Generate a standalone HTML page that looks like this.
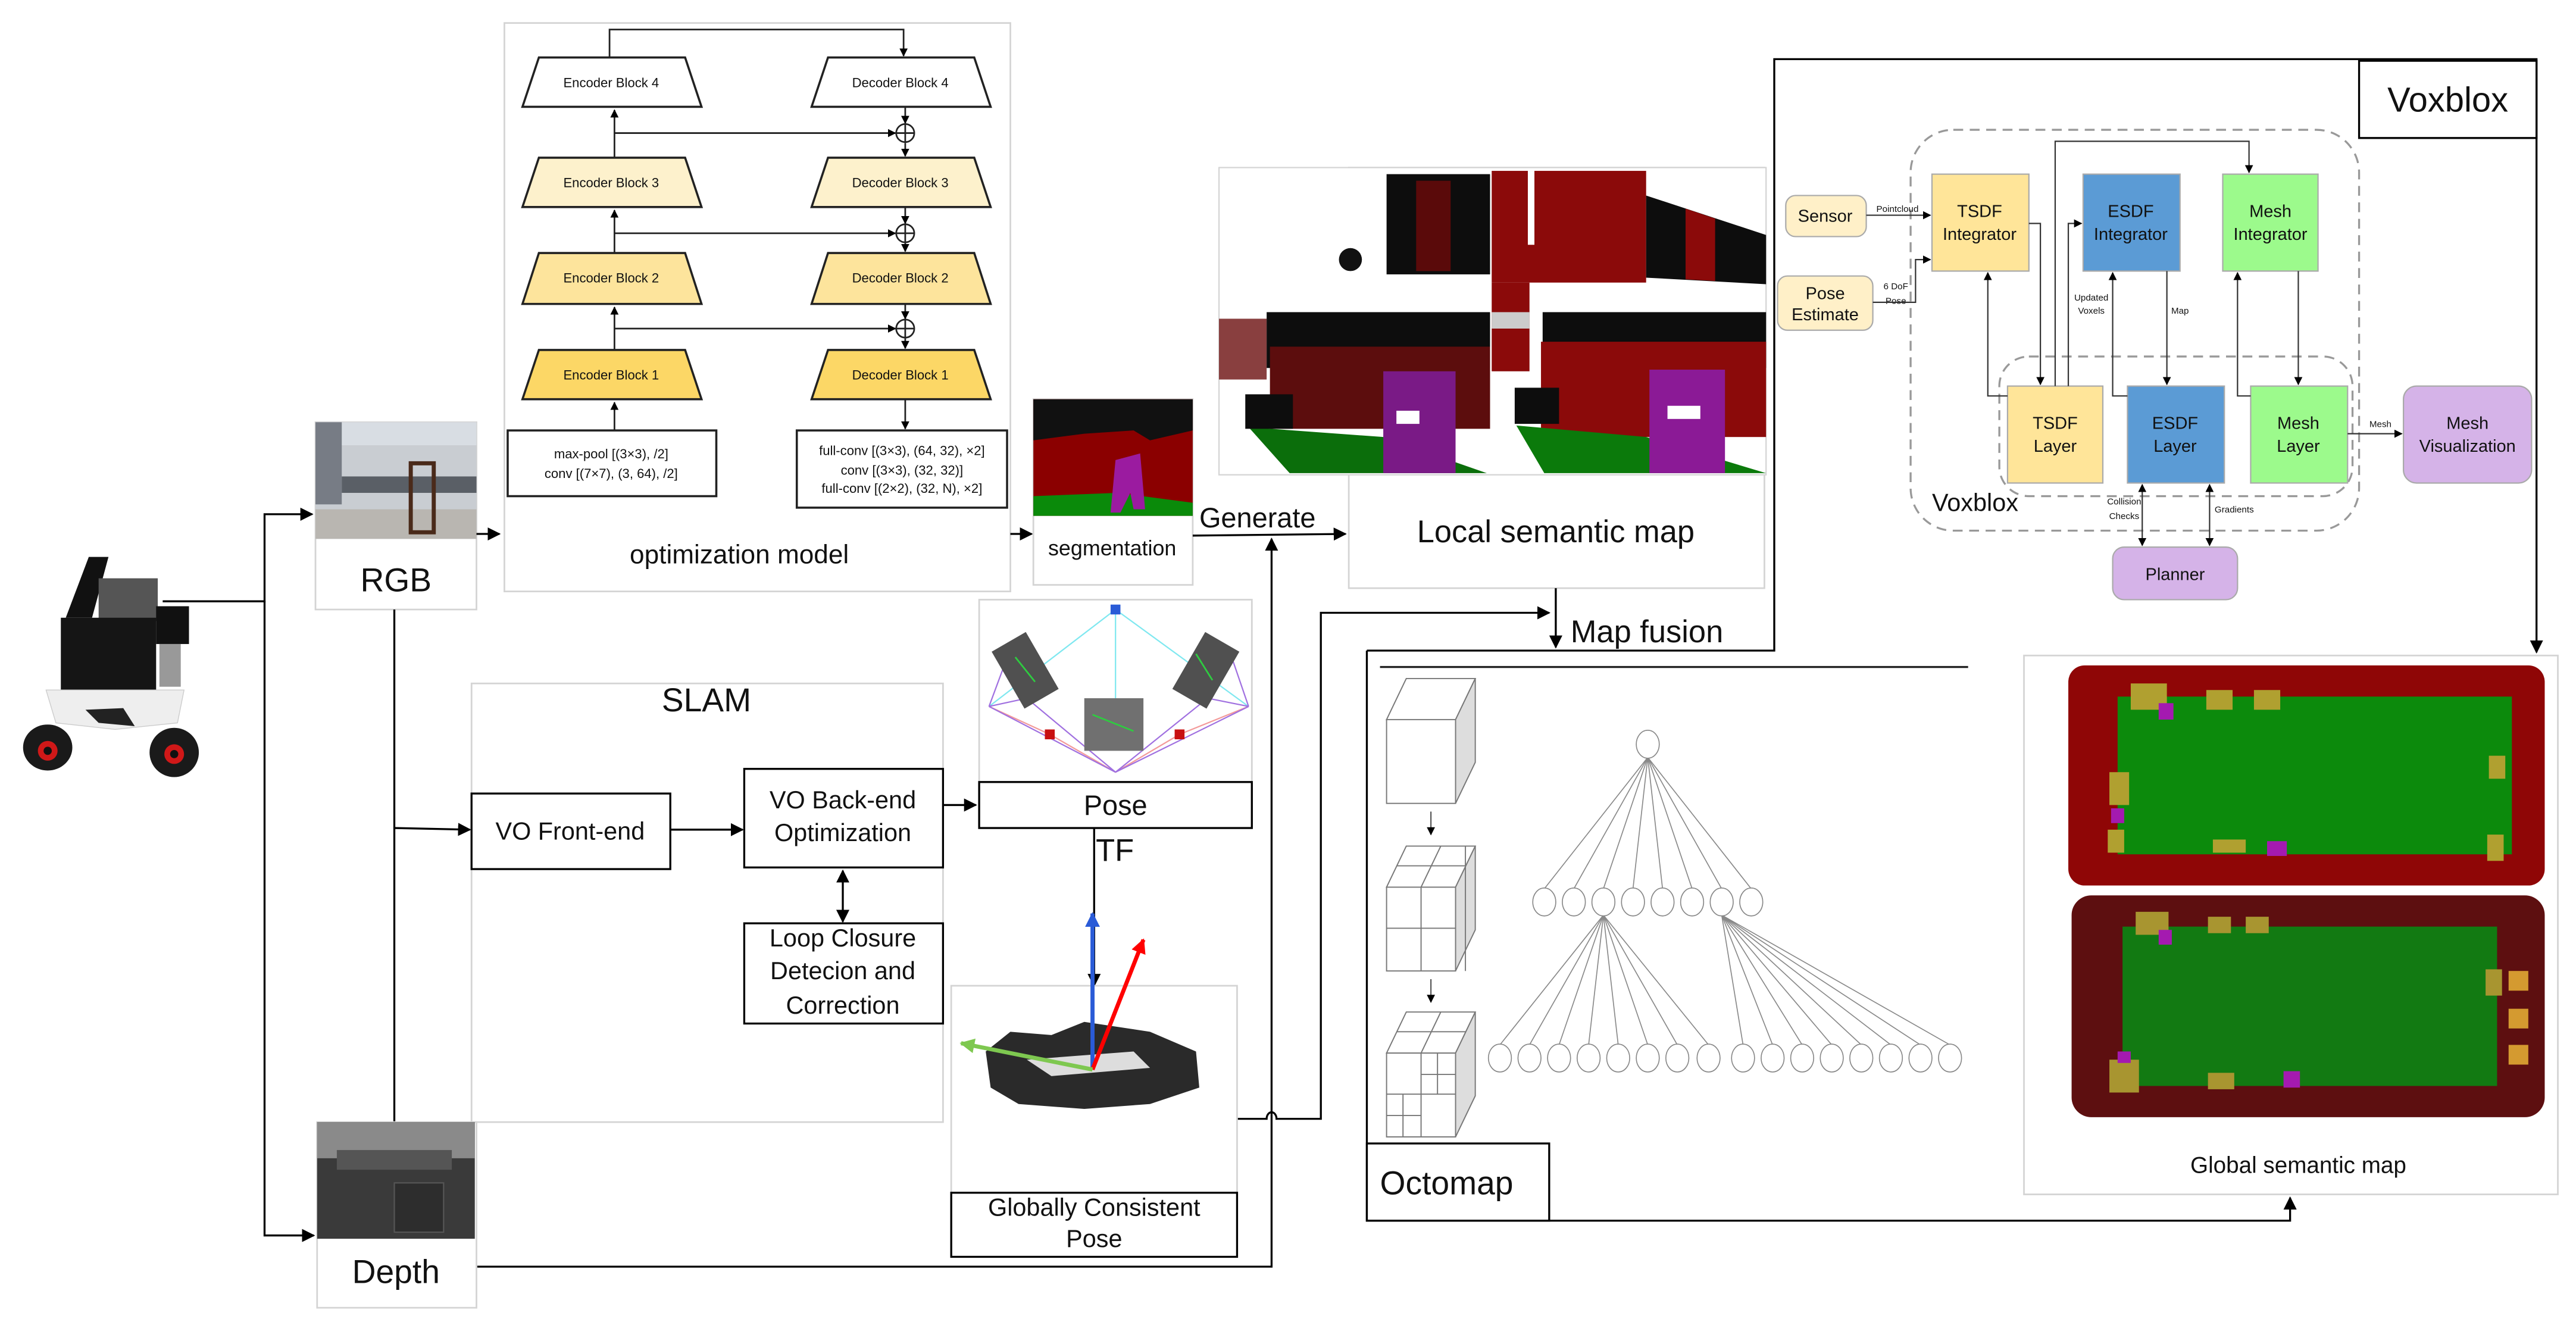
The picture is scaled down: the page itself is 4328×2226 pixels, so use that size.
<!DOCTYPE html>
<html><head><meta charset="utf-8"><style>
html,body{margin:0;padding:0;background:#fff;}
svg{display:block;}
text{font-family:"Liberation Sans",sans-serif;fill:#111;}
</style></head><body>
<svg width="4328" height="2226" viewBox="0 0 1568 806.5" xmlns="http://www.w3.org/2000/svg">
<defs>
<marker id="a" viewBox="0 0 10 10" refX="9" refY="5" markerWidth="8" markerHeight="8" markerUnits="userSpaceOnUse" orient="auto-start-reverse"><path d="M0,0L10,5L0,10z" fill="#000"/></marker>
<marker id="s" viewBox="0 0 10 10" refX="9" refY="5" markerWidth="5" markerHeight="5" markerUnits="userSpaceOnUse" orient="auto-start-reverse"><path d="M0,0L10,5L0,10z" fill="#000"/></marker>
<marker id="ab" viewBox="0 0 10 10" refX="9" refY="5" markerWidth="9" markerHeight="9" markerUnits="userSpaceOnUse" orient="auto"><path d="M0,0L10,5L0,10z" fill="#2a5bd7"/></marker>
<marker id="ar" viewBox="0 0 10 10" refX="9" refY="5" markerWidth="9" markerHeight="9" markerUnits="userSpaceOnUse" orient="auto"><path d="M0,0L10,5L0,10z" fill="#f00"/></marker>
<marker id="ag" viewBox="0 0 10 10" refX="9" refY="5" markerWidth="9" markerHeight="9" markerUnits="userSpaceOnUse" orient="auto"><path d="M0,0L10,5L0,10z" fill="#7ec850"/></marker>
</defs>

<!-- Robot -->
<g>
<polygon points="40,376 54,339 66,339 56,376" fill="#111"/>
<rect x="60" y="352" width="36" height="26" fill="#555"/>
<rect x="37" y="376" width="58" height="47" fill="#151515"/>
<rect x="95" y="369" width="20" height="23" fill="#111"/>
<rect x="97" y="392" width="13" height="26" fill="#999"/>
<path d="M28,420 L112,420 L108,440 L70,444 L34,440 Z" fill="#eee" stroke="#ccc" stroke-width="0.5"/>
<polygon points="52,432 75,431 82,442 60,440" fill="#222"/>
<ellipse cx="29" cy="455" rx="15" ry="14" fill="#1a1a1a"/>
<ellipse cx="106" cy="458" rx="15" ry="15" fill="#1a1a1a"/>
<circle cx="29" cy="457" r="6" fill="#d01818"/><circle cx="29" cy="457" r="2.5" fill="#111"/>
<circle cx="106" cy="459" r="6" fill="#d01818"/><circle cx="106" cy="459" r="2.5" fill="#111"/>
</g>

<!-- Robot connectors -->
<g stroke="#000" stroke-width="1.2" fill="none">
<path d="M99,366 H161 V313 H190" marker-end="url(#a)"/>
<path d="M161,366 V752 H191" marker-end="url(#a)"/>
</g>

<!-- RGB -->
<rect x="192" y="257" width="98" height="114" fill="#fff" stroke="#d4d4d4" stroke-width="1"/>
<rect x="192" y="257" width="98" height="71" fill="#c9cdd2"/>
<rect x="192" y="257" width="98" height="14" fill="#d8dde3"/>
<rect x="192" y="257" width="16" height="50" fill="#777c85"/>
<rect x="208" y="290" width="82" height="10" fill="#5a5f66"/>
<rect x="192" y="310" width="98" height="18" fill="#b9b6b1"/>
<rect x="250" y="282" width="14" height="42" fill="none" stroke="#4a2a1a" stroke-width="2.5"/>
<text x="241" y="360" font-size="20" text-anchor="middle">RGB</text>
<line x1="290" y1="325" x2="304" y2="325" stroke="#000" stroke-width="1.2" marker-end="url(#a)"/>

<!-- Optimization model -->
<rect x="307" y="14" width="308" height="346" fill="#fff" stroke="#d4d4d4" stroke-width="1"/>
<g stroke="#222" stroke-width="1.3">
<polygon points="328,35 417,35 427,65 318,65" fill="#fff"/>
<polygon points="504,35 593,35 603,65 494,65" fill="#fff"/>
<polygon points="328,96 417,96 427,126 318,126" fill="#fdf1cc"/>
<polygon points="504,96 593,96 603,126 494,126" fill="#fdf1cc"/>
<polygon points="328,154 417,154 427,185 318,185" fill="#fde49c"/>
<polygon points="504,154 593,154 603,185 494,185" fill="#fde49c"/>
<polygon points="328,213 417,213 427,243 318,243" fill="#fcd766"/>
<polygon points="504,213 593,213 603,243 494,243" fill="#fcd766"/>
</g>
<g font-size="8" text-anchor="middle">
<text x="372" y="53">Encoder Block 4</text><text x="548" y="53">Decoder Block 4</text>
<text x="372" y="114">Encoder Block 3</text><text x="548" y="114">Decoder Block 3</text>
<text x="372" y="172">Encoder Block 2</text><text x="548" y="172">Decoder Block 2</text>
<text x="372" y="231">Encoder Block 1</text><text x="548" y="231">Decoder Block 1</text>
</g>
<g stroke="#222" stroke-width="1" fill="none">
<path d="M371,35 V18 H550 V34" marker-end="url(#s)"/>
<line x1="374" y1="96" x2="374" y2="67" marker-end="url(#s)"/>
<line x1="374" y1="154" x2="374" y2="128" marker-end="url(#s)"/>
<line x1="374" y1="213" x2="374" y2="187" marker-end="url(#s)"/>
<line x1="374" y1="262" x2="374" y2="245" marker-end="url(#s)"/>
<line x1="374" y1="81" x2="545" y2="81" marker-end="url(#s)"/>
<line x1="374" y1="142" x2="545" y2="142" marker-end="url(#s)"/>
<line x1="374" y1="200" x2="545" y2="200" marker-end="url(#s)"/>
<line x1="551" y1="65" x2="551" y2="75" marker-end="url(#s)"/>
<line x1="551" y1="87" x2="551" y2="95" marker-end="url(#s)"/>
<line x1="551" y1="126" x2="551" y2="136" marker-end="url(#s)"/>
<line x1="551" y1="148" x2="551" y2="153" marker-end="url(#s)"/>
<line x1="551" y1="185" x2="551" y2="194" marker-end="url(#s)"/>
<line x1="551" y1="206" x2="551" y2="212" marker-end="url(#s)"/>
<line x1="551" y1="243" x2="551" y2="261" marker-end="url(#s)"/>
<circle cx="551" cy="81" r="5.5" fill="#fff"/><path d="M545.5,81H556.5M551,75.5V86.5"/>
<circle cx="551" cy="142" r="5.5" fill="#fff"/><path d="M545.5,142H556.5M551,136.5V147.5"/>
<circle cx="551" cy="200" r="5.5" fill="#fff"/><path d="M545.5,200H556.5M551,194.5V205.5"/>
</g>
<rect x="309" y="262" width="127" height="40" fill="#fff" stroke="#222" stroke-width="1.3"/>
<rect x="485" y="262" width="128" height="47" fill="#fff" stroke="#222" stroke-width="1.3"/>
<g font-size="8" text-anchor="middle">
<text x="372" y="279">max-pool [(3×3), /2]</text>
<text x="372" y="291">conv [(7×7), (3, 64), /2]</text>
<text x="549" y="277">full-conv [(3×3), (64, 32), ×2]</text>
<text x="549" y="289">conv [(3×3), (32, 32)]</text>
<text x="549" y="300">full-conv [(2×2), (32, N), ×2]</text>
</g>
<text x="450" y="343" font-size="16" text-anchor="middle">optimization model</text>
<line x1="615" y1="325" x2="628" y2="325" stroke="#000" stroke-width="1.2" marker-end="url(#a)"/>

<!-- Segmentation -->
<rect x="629" y="243" width="97" height="113" fill="#fff" stroke="#d4d4d4" stroke-width="1"/>
<rect x="629" y="243" width="97" height="71" fill="#8b0000"/>
<polygon points="629,243 726,243 726,262 700,268 690,262 660,264 629,268" fill="#111"/>
<polygon points="629,302 680,300 726,306 726,314 629,314" fill="#0a8a0a"/>
<polygon points="679,280 694,276 697,310 690,310 688,300 682,312 676,312" fill="#9b1ba0"/>
<text x="677" y="338" font-size="13" text-anchor="middle">segmentation</text>

<!-- Generate -->
<line x1="726" y1="326" x2="819" y2="325" stroke="#000" stroke-width="1.2" marker-end="url(#a)"/>
<text x="730" y="321" font-size="17">Generate</text>

<!-- Local semantic map -->
<rect x="821" y="102" width="253" height="256" fill="#fff" stroke="#d4d4d4" stroke-width="1"/>
<rect x="742" y="102" width="333" height="187" fill="#fff" stroke="#d4d4d4" stroke-width="0.8"/>
<g>
<rect x="844" y="106" width="63" height="61" fill="#0d0d0d"/>
<rect x="862" y="110" width="21" height="55" fill="#5a0a0a"/>
<circle cx="822" cy="158" r="7" fill="#111"/>
<rect x="742" y="194" width="29" height="37" fill="#6b0f0f" opacity="0.8"/>
<rect x="771" y="190" width="136" height="34" fill="#0d0d0d"/>
<rect x="773" y="211" width="134" height="50" fill="#5c0d0d"/>
<polygon points="760,260 842,266 905,288 785,288" fill="#0b6e0b"/>
<rect x="758" y="240" width="29" height="21" fill="#0d0d0d"/>
<rect x="842" y="226" width="44" height="62" fill="#7a1a86"/>
<rect x="850" y="250" width="14" height="8" fill="#fff"/>
<rect x="908" y="104" width="94" height="68" fill="#8b0a0a"/>
<rect x="930" y="104" width="4" height="45" fill="#fff"/>
<rect x="908" y="172" width="23" height="54" fill="#8b0a0a"/>
<rect x="908" y="190" width="23" height="10" fill="#ccc"/>
<polygon points="1002,119 1075,143 1075,173 1002,169" fill="#0d0d0d"/>
<polygon points="1026,127 1044,133 1044,171 1026,170" fill="#8b0a0a"/>
<rect x="939" y="190" width="136" height="34" fill="#0d0d0d"/>
<rect x="938" y="208" width="137" height="58" fill="#8b0a0a"/>
<polygon points="923,259 1002,266 1075,288 940,288" fill="#0b7a0b"/>
<rect x="922" y="236" width="27" height="22" fill="#0d0d0d"/>
<rect x="1004" y="225" width="46" height="63" fill="#8b1a96"/>
<rect x="1015" y="247" width="20" height="8" fill="#fff"/>
</g>
<text x="947" y="330" font-size="19" text-anchor="middle">Local semantic map</text>

<!-- Map fusion & big connectors -->
<g stroke="#000" stroke-width="1.2" fill="none">
<line x1="947" y1="358" x2="947" y2="394" marker-end="url(#a)"/>
<path d="M753,681 H771 A3,4 0 0 1 777,681 H804 V373 H943" marker-end="url(#a)"/>
<path d="M289,771 H774 V328" marker-end="url(#a)"/>
<path d="M832,396 H1080 V36 H1544 V397" marker-end="url(#a)"/>
<path d="M832,396 V743 H1394 V729" marker-end="url(#a)"/>
</g>
<text x="956" y="391" font-size="19">Map fusion</text>

<!-- Octomap -->
<line x1="840" y1="406" x2="1198" y2="406" stroke="#222" stroke-width="1.2"/>
<rect x="832" y="696" width="111" height="47" fill="#fff" stroke="#000" stroke-width="1.2"/>
<text x="840" y="727" font-size="20">Octomap</text>
<g stroke="#777" stroke-width="0.7" fill="#fff">
<polygon points="844,438 856,413 898,413 886,438"/><polygon points="886,438 898,413 898,464 886,489" fill="#ddd"/><rect x="844" y="438" width="42" height="51"/>
<polygon points="844,540 856,515 898,515 886,540"/><polygon points="886,540 898,515 898,566 886,591" fill="#ddd"/><rect x="844" y="540" width="42" height="51"/>
<path d="M865,540V591M844,565H886M877,515L865,540M850,527H892M892,515V591" fill="none"/>
<polygon points="844,641 856,616 898,616 886,641"/><polygon points="886,641 898,616 898,667 886,692" fill="#ddd"/><rect x="844" y="641" width="42" height="51"/>
<path d="M865,641V692M844,666H886M854,666V692M844,679H865M875,641V666M865,654H886M877,616L865,641M850,628H892" fill="none"/>
</g>
<g stroke="#444" stroke-width="0.7"><line x1="871" y1="494" x2="871" y2="508" marker-end="url(#s)"/><line x1="871" y1="596" x2="871" y2="610" marker-end="url(#s)"/></g>
<g stroke="#888" stroke-width="0.6" fill="#fff" id="tree">
<line x1="1003" y1="461" x2="940" y2="541"/><line x1="1003" y1="461" x2="958" y2="541"/><line x1="1003" y1="461" x2="976" y2="541"/><line x1="1003" y1="461" x2="994" y2="541"/><line x1="1003" y1="461" x2="1012" y2="541"/><line x1="1003" y1="461" x2="1030" y2="541"/><line x1="1003" y1="461" x2="1048" y2="541"/><line x1="1003" y1="461" x2="1066" y2="541"/>
<line x1="976" y1="557" x2="913" y2="636"/><line x1="976" y1="557" x2="931" y2="636"/><line x1="976" y1="557" x2="949" y2="636"/><line x1="976" y1="557" x2="967" y2="636"/><line x1="976" y1="557" x2="985" y2="636"/><line x1="976" y1="557" x2="1003" y2="636"/><line x1="976" y1="557" x2="1021" y2="636"/><line x1="976" y1="557" x2="1040" y2="636"/>
<line x1="1048" y1="557" x2="1061" y2="636"/><line x1="1048" y1="557" x2="1079" y2="636"/><line x1="1048" y1="557" x2="1097" y2="636"/><line x1="1048" y1="557" x2="1115" y2="636"/><line x1="1048" y1="557" x2="1133" y2="636"/><line x1="1048" y1="557" x2="1151" y2="636"/><line x1="1048" y1="557" x2="1169" y2="636"/><line x1="1048" y1="557" x2="1187" y2="636"/>
<ellipse cx="1003" cy="453" rx="7" ry="8.5"/>
<ellipse cx="940" cy="549" rx="7" ry="8.5"/><ellipse cx="958" cy="549" rx="7" ry="8.5"/><ellipse cx="976" cy="549" rx="7" ry="8.5"/><ellipse cx="994" cy="549" rx="7" ry="8.5"/><ellipse cx="1012" cy="549" rx="7" ry="8.5"/><ellipse cx="1030" cy="549" rx="7" ry="8.5"/><ellipse cx="1048" cy="549" rx="7" ry="8.5"/><ellipse cx="1066" cy="549" rx="7" ry="8.5"/>
<ellipse cx="913" cy="644" rx="7" ry="8.5"/><ellipse cx="931" cy="644" rx="7" ry="8.5"/><ellipse cx="949" cy="644" rx="7" ry="8.5"/><ellipse cx="967" cy="644" rx="7" ry="8.5"/><ellipse cx="985" cy="644" rx="7" ry="8.5"/><ellipse cx="1003" cy="644" rx="7" ry="8.5"/><ellipse cx="1021" cy="644" rx="7" ry="8.5"/><ellipse cx="1040" cy="644" rx="7" ry="8.5"/>
<ellipse cx="1061" cy="644" rx="7" ry="8.5"/><ellipse cx="1079" cy="644" rx="7" ry="8.5"/><ellipse cx="1097" cy="644" rx="7" ry="8.5"/><ellipse cx="1115" cy="644" rx="7" ry="8.5"/><ellipse cx="1133" cy="644" rx="7" ry="8.5"/><ellipse cx="1151" cy="644" rx="7" ry="8.5"/><ellipse cx="1169" cy="644" rx="7" ry="8.5"/><ellipse cx="1187" cy="644" rx="7" ry="8.5"/>
</g>

<!-- Global semantic map -->
<rect x="1232" y="399" width="325" height="328" fill="#fff" stroke="#d4d4d4" stroke-width="1"/>
<rect x="1259" y="405" width="290" height="134" rx="10" fill="#8f0606"/>
<rect x="1289" y="424" width="240" height="96" fill="#0c8a0c"/>
<g fill="#b0a030"><rect x="1297" y="416" width="22" height="16"/><rect x="1343" y="420" width="16" height="12"/><rect x="1372" y="420" width="16" height="12"/><rect x="1284" y="470" width="12" height="20"/><rect x="1347" y="511" width="20" height="8"/><rect x="1515" y="460" width="10" height="14"/><rect x="1514" y="508" width="10" height="16"/><rect x="1283" y="505" width="10" height="14"/></g>
<g fill="#a41ab0"><rect x="1314" y="428" width="9" height="10"/><rect x="1285" y="492" width="8" height="9"/><rect x="1380" y="512" width="12" height="9"/></g>
<rect x="1261" y="545" width="288" height="135" rx="12" fill="#5d0f10"/>
<rect x="1292" y="564" width="228" height="97" fill="#127a12"/>
<g fill="#a89530"><rect x="1300" y="555" width="20" height="14"/><rect x="1344" y="558" width="14" height="10"/><rect x="1367" y="558" width="14" height="10"/><rect x="1284" y="645" width="18" height="20"/><rect x="1344" y="653" width="16" height="10"/><rect x="1513" y="590" width="10" height="16"/></g>
<g fill="#d49a30"><rect x="1527" y="591" width="12" height="12"/><rect x="1527" y="614" width="12" height="12"/><rect x="1527" y="636" width="12" height="12"/></g>
<g fill="#a41ab0"><rect x="1314" y="566" width="8" height="9"/><rect x="1390" y="652" width="10" height="10"/><rect x="1289" y="640" width="8" height="7"/></g>
<text x="1399" y="714" font-size="14" text-anchor="middle">Global semantic map</text>

<!-- Voxblox -->
<rect x="1436" y="37" width="108" height="47" fill="#fff" stroke="#000" stroke-width="1.2"/>
<text x="1490" y="68" font-size="21" text-anchor="middle">Voxblox</text>
<rect x="1163" y="79" width="273" height="244" rx="26" fill="none" stroke="#999" stroke-width="1.2" stroke-dasharray="6,4"/>
<rect x="1217" y="217" width="215" height="85" rx="18" fill="none" stroke="#999" stroke-width="1.2" stroke-dasharray="6,4"/>
<g stroke="#aaa" stroke-width="0.8">
<rect x="1087" y="119" width="49" height="25" rx="6" fill="#fff0c8"/>
<rect x="1082" y="168" width="58" height="33" rx="6" fill="#fff0c8"/>
<rect x="1176" y="106" width="59" height="59" fill="#ffe599"/>
<rect x="1268" y="106" width="59" height="59" fill="#5b9bd5"/>
<rect x="1353" y="106" width="58" height="59" fill="#9cfa8c"/>
<rect x="1222" y="235" width="58" height="59" fill="#ffe599"/>
<rect x="1295" y="235" width="59" height="59" fill="#5b9bd5"/>
<rect x="1370" y="235" width="59" height="59" fill="#9cfa8c"/>
<rect x="1463" y="235" width="78" height="59" rx="8" fill="#d5b3e8"/>
<rect x="1286" y="333" width="76" height="32" rx="7" fill="#d5b3e8"/>
</g>
<g font-size="10.5" text-anchor="middle">
<text x="1111" y="135">Sensor</text>
<text x="1111" y="182">Pose</text><text x="1111" y="195">Estimate</text>
<text x="1205" y="132">TSDF</text><text x="1205" y="146">Integrator</text>
<text x="1297" y="132">ESDF</text><text x="1297" y="146">Integrator</text>
<text x="1382" y="132">Mesh</text><text x="1382" y="146">Integrator</text>
<text x="1251" y="261">TSDF</text><text x="1251" y="275">Layer</text>
<text x="1324" y="261">ESDF</text><text x="1324" y="275">Layer</text>
<text x="1399" y="261">Mesh</text><text x="1399" y="275">Layer</text>
<text x="1502" y="261">Mesh</text><text x="1502" y="275">Visualization</text>
<text x="1324" y="353">Planner</text>
</g>
<text x="1176" y="311" font-size="15">Voxblox</text>
<g font-size="5.5" fill="#333" text-anchor="middle">
<text x="1155" y="129">Pointcloud</text>
<text x="1154" y="176">6 DoF</text><text x="1154" y="185">Pose</text>
<text x="1273" y="183">Updated</text><text x="1273" y="191">Voxels</text>
<text x="1327" y="191">Map</text>
<text x="1449" y="260">Mesh</text>
<text x="1293" y="307">Collision</text><text x="1293" y="316">Checks</text>
<text x="1360" y="312">Gradients</text>
</g>
<g stroke="#333" stroke-width="0.8" fill="none">
<line x1="1136" y1="131" x2="1175" y2="131" marker-end="url(#s)"/>
<path d="M1140,184 H1166 V158 H1175" marker-end="url(#s)"/>
<path d="M1235,136 H1242 V234" marker-end="url(#s)"/>
<path d="M1251,235 V86 H1369 V105" marker-end="url(#s)"/>
<path d="M1259,235 V136 H1267" marker-end="url(#s)"/>
<path d="M1222,241 H1210 V166" marker-end="url(#s)"/>
<path d="M1295,241 H1286 V166" marker-end="url(#s)"/>
<line x1="1319" y1="165" x2="1319" y2="234" marker-end="url(#s)"/>
<path d="M1370,241 H1362 V166" marker-end="url(#s)"/>
<line x1="1399" y1="165" x2="1399" y2="234" marker-end="url(#s)"/>
<line x1="1429" y1="264" x2="1462" y2="264" marker-end="url(#s)"/>
<line x1="1304" y1="295" x2="1304" y2="332" marker-start="url(#s)" marker-end="url(#s)"/>
<line x1="1345" y1="295" x2="1345" y2="332" marker-start="url(#s)" marker-end="url(#s)"/>
</g>

<!-- SLAM -->
<line x1="240" y1="371" x2="240" y2="683" stroke="#000" stroke-width="1.2"/>
<rect x="287" y="416" width="287" height="267" fill="#fff" stroke="#d4d4d4" stroke-width="1"/>
<text x="430" y="433" font-size="20" text-anchor="middle">SLAM</text>
<line x1="240" y1="504" x2="286" y2="505" stroke="#000" stroke-width="1.2" marker-end="url(#a)"/>
<rect x="287" y="483" width="121" height="46" fill="#fff" stroke="#000" stroke-width="1.2"/>
<text x="347" y="511" font-size="15" text-anchor="middle">VO Front-end</text>
<line x1="408" y1="505" x2="452" y2="505" stroke="#000" stroke-width="1.2" marker-end="url(#a)"/>
<rect x="453" y="468" width="121" height="60" fill="#fff" stroke="#000" stroke-width="1.2"/>
<text x="513" y="492" font-size="15" text-anchor="middle">VO Back-end</text>
<text x="513" y="512" font-size="15" text-anchor="middle">Optimization</text>
<line x1="513" y1="530" x2="513" y2="561" stroke="#000" stroke-width="1.2" marker-start="url(#a)" marker-end="url(#a)"/>
<rect x="453" y="562" width="121" height="61" fill="#fff" stroke="#000" stroke-width="1.2"/>
<g font-size="15" text-anchor="middle"><text x="513" y="576">Loop Closure</text><text x="513" y="596">Detecion and</text><text x="513" y="617">Correction</text></g>
<line x1="574" y1="490" x2="594" y2="490" stroke="#000" stroke-width="1.2" marker-end="url(#a)"/>

<!-- Pose image -->
<rect x="596" y="365" width="166" height="111" fill="#fff" stroke="#d4d4d4" stroke-width="1"/>
<g stroke-width="0.8" fill="none">
<path d="M679,371 L602,430 M679,371 L760,430 M679,371 L679,440" stroke="#7fe8f0"/>
<path d="M602,430 L639,447 L679,470 L718,447 L760,430" stroke="#f39a9a"/>
<path d="M602,430 L679,470 M760,430 L679,470 M602,430 L625,425 L679,470 M760,430 L735,425 L679,470 M602,430 L615,395 M760,430 L748,395" stroke="#a070e0"/>
</g>
<rect x="676" y="368" width="6" height="6" fill="#2a5bd7"/>
<rect x="636" y="444" width="6" height="6" fill="#c81010"/>
<rect x="715" y="444" width="6" height="6" fill="#c81010"/>
<rect x="612" y="388" width="24" height="40" fill="#505050" transform="rotate(-30 624 408)"/>
<rect x="722" y="388" width="24" height="40" fill="#505050" transform="rotate(30 734 408)"/>
<rect x="660" y="425" width="36" height="32" fill="#707070"/>
<path d="M618,400 L630,415 M728,398 L738,414 M665,435 L690,445" stroke="#2ecc40" stroke-width="1"/>
<rect x="596" y="476" width="166" height="28" fill="#fff" stroke="#000" stroke-width="1.2"/>
<text x="679" y="496" font-size="17" text-anchor="middle">Pose</text>
<line x1="666" y1="504" x2="666" y2="600" stroke="#000" stroke-width="1.2" marker-end="url(#a)"/>
<text x="667" y="524" font-size="19">TF</text>

<!-- Globally consistent pose -->
<rect x="579" y="600" width="174" height="126" fill="#fff" stroke="#d4d4d4" stroke-width="1"/>
<path d="M600,640 L615,628 L640,630 L660,622 L700,628 L728,640 L730,662 L700,672 L660,675 L620,672 L603,662 Z" fill="#2a2a2a"/>
<path d="M625,645 L690,640 L700,650 L640,655 Z" fill="#ddd"/>
<line x1="665" y1="651" x2="665" y2="556" stroke="#2a5bd7" stroke-width="2.5" marker-end="url(#ab)"/>
<line x1="665" y1="651" x2="696" y2="572" stroke="#f00" stroke-width="2.5" marker-end="url(#ar)"/>
<line x1="665" y1="651" x2="585" y2="635" stroke="#7ec850" stroke-width="2.5" marker-end="url(#ag)"/>
<rect x="579" y="726" width="174" height="39" fill="#fff" stroke="#000" stroke-width="1.2"/>
<text x="666" y="740" font-size="15" text-anchor="middle">Globally Consistent</text>
<text x="666" y="759" font-size="15" text-anchor="middle">Pose</text>

<!-- Depth -->
<rect x="193" y="683" width="97" height="113" fill="#fff" stroke="#d4d4d4" stroke-width="1"/>
<rect x="193" y="683" width="96" height="71" fill="#3a3a3a"/>
<rect x="193" y="683" width="96" height="22" fill="#8a8a8a"/>
<rect x="205" y="700" width="70" height="12" fill="#555"/>
<rect x="240" y="720" width="30" height="30" fill="#2d2d2d" stroke="#555" stroke-width="0.8"/>
<text x="241" y="781" font-size="20" text-anchor="middle">Depth</text>
</svg>
</body></html>
